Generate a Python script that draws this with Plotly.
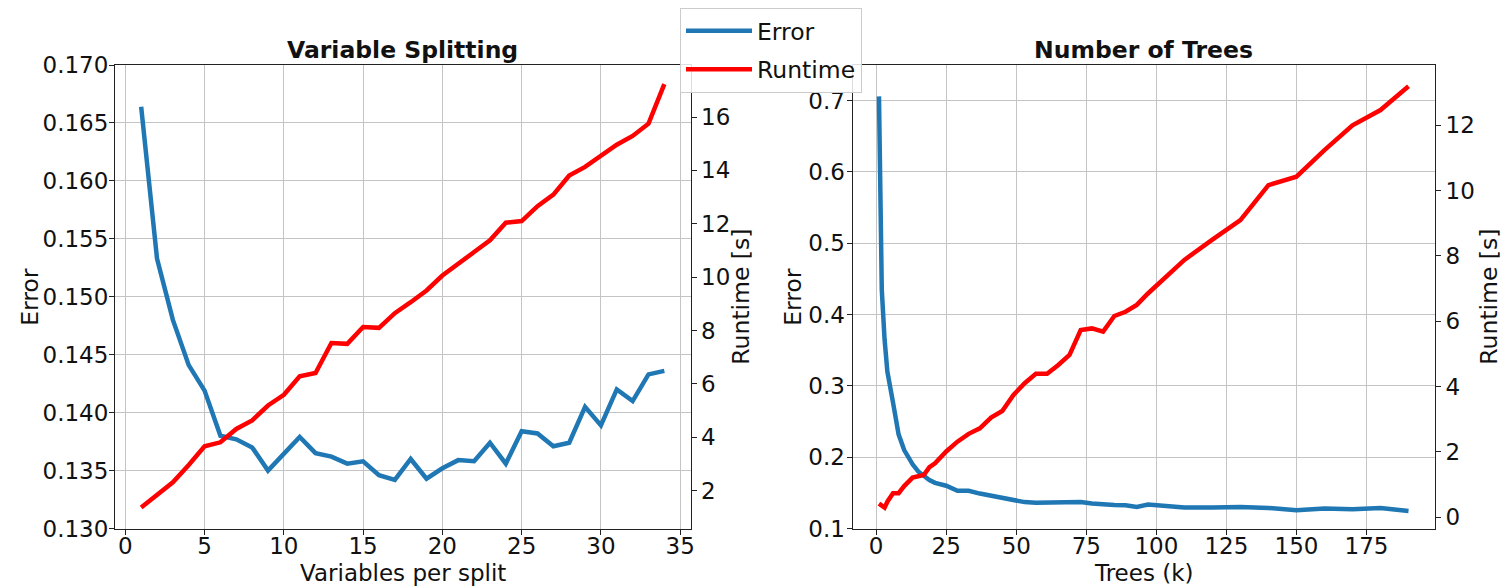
import plotly.graph_objects as go

# ---------------- data ----------------
# Left panel: Variable Splitting
variables_per_split = list(range(1, 35))
split_error = [0.1664, 0.1533, 0.1480, 0.1441, 0.1419, 0.1380, 0.1377, 0.1370, 0.1350, 0.1364,
               0.1379, 0.1365, 0.1362, 0.1356, 0.1358, 0.1346, 0.1342, 0.1360, 0.1343, 0.1352,
               0.1359, 0.1358, 0.1374, 0.1356, 0.1384, 0.1382, 0.1371, 0.1374, 0.1405, 0.1389,
               0.1420, 0.1410, 0.1433, 0.1436]
split_runtime = [1.37, 1.84, 2.31, 2.96, 3.66, 3.81, 4.31, 4.63, 5.19, 5.59,
                 6.28, 6.41, 7.53, 7.50, 8.13, 8.10, 8.65, 9.06, 9.50, 10.06,
                 10.48, 10.94, 11.38, 12.04, 12.10, 12.66, 13.09, 13.81, 14.13, 14.54,
                 14.96, 15.29, 15.75, 17.23]

# Right panel: Number of Trees
trees_k = [1, 2, 3, 4, 6, 8, 10, 13, 15, 17, 19, 21, 25, 29, 33, 37, 41, 45, 49, 53,
           57, 61, 65, 69, 73, 77, 81, 85, 89, 93, 97, 110, 120, 130, 140, 150, 160, 170, 180, 190]
trees_error = [0.706, 0.435, 0.365, 0.320, 0.277, 0.232, 0.210, 0.190, 0.180, 0.174,
               0.168, 0.164, 0.160, 0.153, 0.153, 0.149, 0.146, 0.143, 0.1395, 0.137,
               0.136, 0.136, 0.136, 0.1365, 0.137, 0.135, 0.1335, 0.133, 0.1326, 0.1303,
               0.1335, 0.1293, 0.1295, 0.1303, 0.1289, 0.1256, 0.1279, 0.1270, 0.1289, 0.1247]
trees_runtime = [0.41, 0.33, 0.29, 0.47, 0.73, 0.73, 0.95, 1.21, 1.24, 1.29,
                 1.53, 1.65, 2.01, 2.31, 2.55, 2.72, 3.05, 3.25, 3.74, 4.10,
                 4.39, 4.39, 4.66, 4.97, 5.73, 5.78, 5.68, 6.16, 6.29, 6.50,
                 6.85, 7.88, 8.50, 9.10, 10.17, 10.43, 11.24, 12.00, 12.47, 13.20]

# ---------------- figure ----------------
W, H = 1511, 588
OFF = 8  # page body margin in the browser
BLUE = "#1f77b4"
RED = "#ff0000"
FONT = "DejaVu Sans"
TICK_SIZE = 23
LABEL_SIZE = 23.5
GRID = "#c4c4c4"
SPINE = "#222222"

fig = go.Figure()

fig.add_trace(go.Scatter(x=variables_per_split, y=split_error, mode="lines", name="Error",
                         legendgroup="err", line=dict(color=BLUE, width=4.5), xaxis="x", yaxis="y"))
fig.add_trace(go.Scatter(x=variables_per_split, y=split_runtime, mode="lines", name="Runtime",
                         legendgroup="rt", line=dict(color=RED, width=4.5), xaxis="x", yaxis="y2"))
fig.add_trace(go.Scatter(x=trees_k, y=trees_error, mode="lines", name="Error", showlegend=False,
                         legendgroup="err", line=dict(color=BLUE, width=4.5), xaxis="x2", yaxis="y3"))
fig.add_trace(go.Scatter(x=trees_k, y=trees_runtime, mode="lines", name="Runtime", showlegend=False,
                         legendgroup="rt", line=dict(color=RED, width=4.5), xaxis="x2", yaxis="y4"))


def px_x(p):
    return (p - OFF) / W


def px_y(p):
    return (H - (p - OFF)) / H


top, bottom = 65, 528.5
L1, R1 = 115, 690.5
L2, R2 = 852.5, 1435

common_axis = dict(
    showline=True, linecolor=SPINE, linewidth=1,
    ticks="outside", ticklen=5, tickwidth=1, tickcolor=SPINE,
    tickfont=dict(family=FONT, size=TICK_SIZE, color="#111111"),
    zeroline=False, automargin=False,
)

fig.update_layout(
    template="none",
    width=W, height=H, autosize=False,
    margin=dict(l=0, r=0, t=0, b=0, pad=0),
    paper_bgcolor="white", plot_bgcolor="white",
    font=dict(family=FONT, color="#111111"),
    showlegend=True,
    legend=dict(x=px_x(680), y=px_y(8), xanchor="left", yanchor="top",
                bgcolor="rgba(255,255,255,0.85)", bordercolor="#cccccc", borderwidth=1,
                font=dict(family=FONT, size=LABEL_SIZE, color="#111111"),
                traceorder="grouped", tracegroupgap=5, itemwidth=66),
    xaxis=dict(domain=[px_x(L1), px_x(R1)], range=[-0.65, 35.65], tick0=0, dtick=5,
               ticklabelstandoff=-8,
               showgrid=True, gridcolor=GRID, gridwidth=1, anchor="y", mirror=True, **common_axis),
    yaxis=dict(domain=[px_y(bottom), px_y(top)], range=[0.130, 0.170], tick0=0.13, dtick=0.005,
               tickformat=".3f", ticklabelstandoff=-4,
               showgrid=True, gridcolor=GRID, gridwidth=1, anchor="x",
               mirror=True, **common_axis),
    yaxis2=dict(range=[0.58, 17.95], tick0=0, dtick=2, overlaying="y", side="right",
                anchor="x", showgrid=False, **common_axis),
    xaxis2=dict(domain=[px_x(L2), px_x(R2)], range=[-8.45, 199.45], tick0=0, dtick=25,
                ticklabelstandoff=-8,
                showgrid=True, gridcolor=GRID, gridwidth=1, anchor="y3", mirror=True, **common_axis),
    yaxis3=dict(domain=[px_y(bottom), px_y(top)], range=[0.1, 0.75], tick0=0.1, dtick=0.1,
                tickformat=".1f", ticklabelstandoff=-3,
                showgrid=True, gridcolor=GRID, gridwidth=1, anchor="x2",
                mirror=True, **common_axis),
    yaxis4=dict(range=[-0.35, 13.85], tick0=0, dtick=2, overlaying="y3", side="right",
                anchor="x2", showgrid=False, **common_axis),
)

ann_font = dict(family=FONT, size=LABEL_SIZE, color="#111111")
xlab_font = dict(family=FONT, size=23, color="#111111")
title_font = dict(family=FONT, size=23.5, color="#111111")
annotations = [
    dict(text="<b>Variable Splitting</b>", x=px_x((L1 + R1) / 2), y=px_y(50), font=title_font),
    dict(text="<b>Number of Trees</b>", x=px_x((L2 + R2) / 2), y=px_y(50), font=title_font),
    dict(text="Variables per split", x=px_x((L1 + R1) / 2), y=px_y(573), font=xlab_font),
    dict(text="Trees (k)", x=px_x((L2 + R2) / 2), y=px_y(573), font=xlab_font),
    dict(text="Error", x=px_x(30), y=px_y((top + bottom) / 2), font=ann_font, textangle=-90),
    dict(text="Runtime [s]", x=px_x(741), y=px_y((top + bottom) / 2), font=ann_font, textangle=-90),
    dict(text="Error", x=px_x(793), y=px_y((top + bottom) / 2), font=ann_font, textangle=-90),
    dict(text="Runtime [s]", x=px_x(1489), y=px_y((top + bottom) / 2), font=ann_font, textangle=-90),
]
for a in annotations:
    a.update(xref="paper", yref="paper", showarrow=False, xanchor="center", yanchor="middle")
fig.update_layout(annotations=annotations)

fig.write_html("out.html")
